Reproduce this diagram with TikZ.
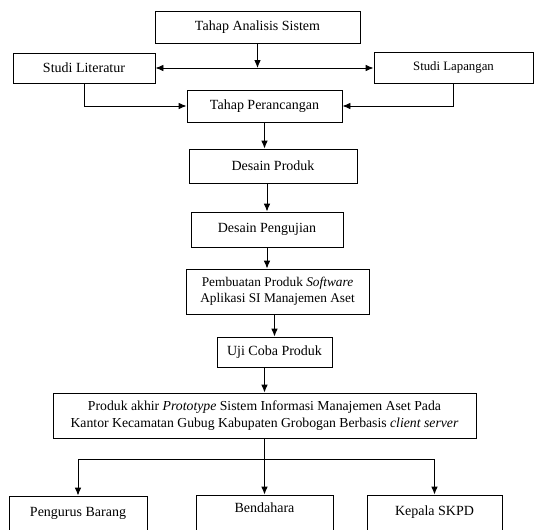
\documentclass[tikz,border=0pt]{standalone}
\usepackage{fontspec}
\setmainfont{Liberation Serif}
\usetikzlibrary{arrows.meta}
\newcommand{\px}{0.75pt}

\begin{document}
\begin{tikzpicture}[x=0.75pt,y=-0.75pt,
	kotak/.style={draw,line width=0.7pt,rectangle,inner sep=1pt,align=center,font=\fontsize{10.5}{12.5}\selectfont},
	panah/.style={line width=0.7pt,-{Latex[length=6pt,width=5pt]}}]
	\useasboundingbox (0,0) rectangle (536,529);
	\clip (0,0) rectangle (536,529);
	% tahap awal
	\node[kotak,minimum width=205*\px,minimum height=32*\px] (analisis) at (257.5,27) {Tahap Analisis Sistem};
	\node[kotak,minimum width=142*\px,minimum height=30*\px] (literatur) at (84,68) {Studi Literatur};
	\node[kotak,minimum width=159*\px,minimum height=31*\px,font=\fontsize{9.6}{11}\selectfont] (lapangan) at (453.5,67.5) {Studi Lapangan};
	\node[kotak,minimum width=155*\px,minimum height=32*\px] (perancangan) at (264.5,106) {Tahap Perancangan};
	% tahap pengembangan
	\node[kotak,minimum width=168*\px,minimum height=34*\px] (desainproduk) at (273,166) {Desain Produk};
	\node[kotak,minimum width=152*\px,minimum height=35*\px] (desainuji) at (267,229.5) {Desain Pengujian};
	\node[kotak,minimum width=183*\px,minimum height=45*\px,font=\fontsize{10}{12}\selectfont] (pembuatan) at (277.5,291.5) {Pembuatan Produk \textit{Software}\\Aplikasi SI Manajemen Aset};
	\node[kotak,minimum width=115*\px,minimum height=30*\px] (ujicoba) at (274.5,352) {Uji Coba Produk};
	\node[kotak,minimum width=423*\px,minimum height=45*\px,font=\fontsize{10.3}{12.5}\selectfont] (akhir) at (264.5,415.5) {Produk akhir \textit{Prototype} Sistem Informasi Manajemen Aset Pada\\Kantor Kecamatan Gubug Kabupaten Grobogan Berbasis \textit{client server}};
	% pengguna
	\node[kotak,minimum width=138*\px,minimum height=40*\px,text depth=6pt] (pengurus) at (78,516) {Pengurus Barang};
	\node[kotak,minimum width=137*\px,minimum height=44*\px,text depth=14pt] (bendahara) at (264.5,517) {Bendahara};
	\node[kotak,minimum width=135*\px,minimum height=40*\px,text depth=6pt] (kepala) at (434.5,515) {Kepala SKPD};
	\coordinate (temu) at (analisis.south |- literatur.east);
	\coordinate (cabang) at (akhir.south |- 0,459);

	\draw[panah] (analisis.south) -- (temu);
	\draw[panah,{Latex[length=6pt,width=5pt]}-{Latex[length=6pt,width=5pt]}] (literatur.east) -- (literatur.east -| lapangan.west);
	\draw[panah] (literatur.south) |- (perancangan.west);
	\draw[panah] (lapangan.south) |- (perancangan.east);
	\draw[panah] (perancangan.south) -- (perancangan.south |- desainproduk.north);
	\draw[panah] (desainuji.north |- desainproduk.south) -- (desainuji.north);
	\draw[panah] (desainuji.south) -- (desainuji.south |- pembuatan.north);
	\draw[panah] (ujicoba.north |- pembuatan.south) -- (ujicoba.north);
	\draw[panah] (akhir.north |- ujicoba.south) -- (akhir.north);
	\draw[panah] (akhir.south) -- (bendahara.north);
	\draw[panah] (cabang) -| (pengurus.north);
	\draw[panah] (cabang) -| (kepala.north);
\end{tikzpicture}
\end{document}
